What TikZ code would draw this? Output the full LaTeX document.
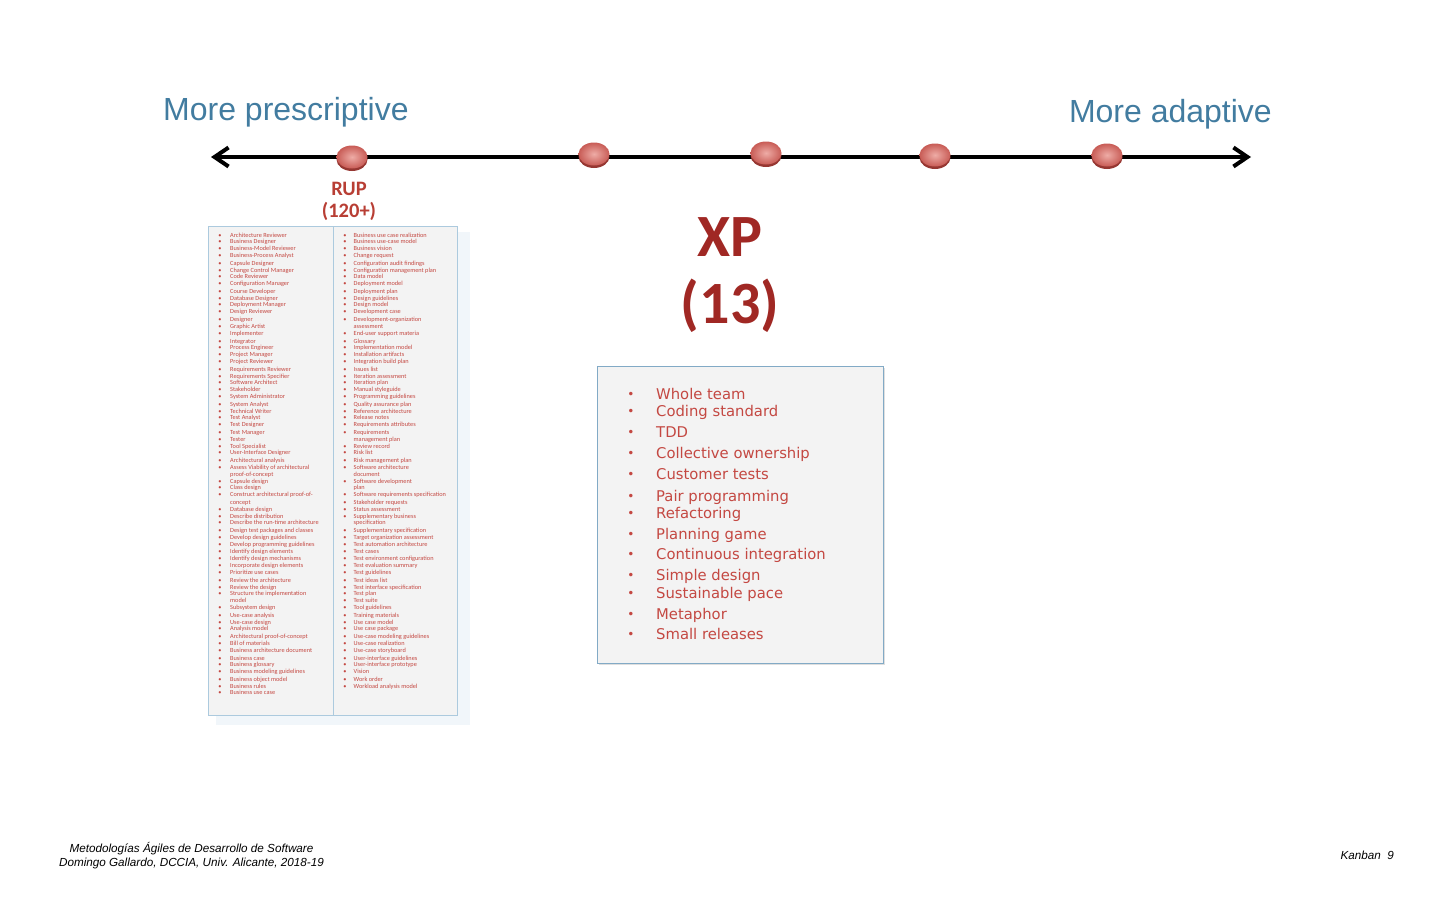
\documentclass[tikz,border=0pt]{standalone}
\usepackage{fontspec}
\setmainfont{Liberation Sans}
\newfontfamily\carlito{Carlito}
\newfontfamily\dejavu{DejaVu Sans}
\usetikzlibrary{arrows.meta,shapes.geometric,shadows}

\definecolor{headblue}{RGB}{66,124,160}
\definecolor{rupred}{RGB}{184,62,52}
\definecolor{xpred}{RGB}{160,40,36}
\definecolor{itemred}{RGB}{196,72,66}
\definecolor{boxfill}{RGB}{243,243,243}
\definecolor{boxline}{RGB}{130,170,198}
\definecolor{listline}{RGB}{172,202,222}
\definecolor{listshade}{RGB}{241,246,250}
\definecolor{dotdark}{RGB}{150,55,50}
\definecolor{dotmid}{RGB}{200,92,86}
\definecolor{dotlight}{RGB}{238,172,166}

\tikzset{
  head/.style={inner sep=0pt, text=headblue, font=\fontsize{32}{38}\selectfont},
  axisline/.style={line width=4pt, line cap=round,
    {Straight Barb[length=14pt,width=19pt]}-{Straight Barb[length=14pt,width=19pt]}},
  dot/.style={ellipse, minimum width=31pt, minimum height=23pt, inner sep=0pt,
    inner color=dotlight, outer color=dotmid,
    drop shadow={shadow xshift=0pt, shadow yshift=-2.5pt, fill=dotdark, opacity=1}},
  ruplabel/.style={anchor=base, inner sep=0pt, text=rupred,
    font=\carlito\bfseries\fontsize{20.5}{24}\selectfont},
  xplabel/.style={anchor=base, inner sep=0pt, text=xpred,
    font=\carlito\bfseries\fontsize{60}{70}\selectfont},
  listbox/.style={draw=listline, line width=0.9pt, fill=boxfill, inner sep=0pt},
  rupitem/.style={anchor=base west, inner sep=0pt, text=itemred,
    font=\carlito\fontsize{6.3}{7}\selectfont},
  rupbullet/.style={anchor=base, inner sep=0pt, text=itemred,
    font=\carlito\fontsize{6.3}{7}\selectfont},
  xpbox/.style={draw=boxline, line width=1.4pt, fill=boxfill, inner sep=0pt,
    drop shadow={shadow xshift=1.5pt, shadow yshift=-1.5pt, fill=black!25, opacity=0.5}},
  xpitem/.style={anchor=base west, inner sep=0pt, text=itemred,
    font=\dejavu\fontsize{14.8}{17}\selectfont},
  xpbullet/.style={anchor=base, inner sep=0pt, text=itemred,
    font=\dejavu\fontsize{12}{14}\selectfont},
  foot/.style={anchor=base, inner sep=0pt, font=\itshape\fontsize{11.7}{14}\selectfont},
}

\begin{document}
\begin{tikzpicture}[x=1pt,y=-1pt]
\useasboundingbox (0,0) rectangle (1440,900);

% headings
\node[head, anchor=base west] (hpres) at (163,120) {More prescriptive};
\node[head, anchor=base east] (hadap) at (1272,122) {More adaptive};

% scale axis
\coordinate (axL) at (211,157);
\coordinate (axR) at (1251,157);
\draw[axisline] (axL) -- (axR);

% methods on the scale
\node[dot] (d1) at (352,157) {};
\node[dot] (d2) at (594,154) {};
\node[dot] (d3) at (766,153) {};
\node[dot] (d4) at (935,155) {};
\node[dot] (d5) at (1107,155) {};

% RUP
\node[ruplabel] (rup) at (349,195) {RUP};
\node[ruplabel] (rupn) at (349,217) {(120+)};

% RUP element list
\fill[listshade] (216,232) rectangle (470,725);
\node[listbox, minimum width=249pt, minimum height=489pt] (rupbox) at (332.5,470.5) {};
\coordinate (divT) at (333,226);
\coordinate (divB) at (333,715);
\draw[listline, line width=0.9pt] (divT) -- (divB);

\foreach \yy/\txt/\bul [count=\i] in {
 235/Architecture Reviewer/1, 241/Business Designer/1, 248/Business-Model Reviewer/1,
 255/Business-Process Analyst/1, 263/Capsule Designer/1, 270/Change Control Manager/1,
 276/Code Reviewer/1, 283/Configuration Manager/1, 291/Course Developer/1,
 298/Database Designer/1, 304/Deployment Manager/1, 311/Design Reviewer/1,
 319/Designer/1, 326/Graphic Artist/1, 333/Implementer/1, 341/Integrator/1,
 347/Process Engineer/1, 354/Project Manager/1, 361/Project Reviewer/1,
 369/Requirements Reviewer/1, 376/Requirements Specifier/1, 382/Software Architect/1,
 389/Stakeholder/1, 396/System Administrator/1, 404/System Analyst/1,
 411/Technical Writer/1, 417/Test Analyst/1, 424/Test Designer/1, 432/Test Manager/1,
 439/Tester/1, 446/Tool Specialist/1, 452/User-Interface Designer/1,
 460/Architectural analysis/1, 467/Assess Viability of architectural/1,
 474/proof-of-concept/0, 481/Capsule design/1, 487/Class design/1,
 494/Construct architectural proof-of-/1, 502/concept/0, 509/Database design/1,
 516/Describe distribution/1, 522/Describe the run-time architecture/1,
 530/Design test packages and classes/1, 537/Develop design guidelines/1,
 544/Develop programming guidelines/1, 551/Identify design elements/1,
 558/Identify design mechanisms/1, 565/Incorporate design elements/1,
 572/Prioritize use cases/1, 580/Review the architecture/1, 587/Review the design/1,
 593/Structure the implementation/1, 600/model/0, 607/Subsystem design/1,
 615/Use-case analysis/1, 622/Use-case design/1, 628/Analysis model/1,
 636/Architectural proof-of-concept/1, 643/Bill of materials/1,
 650/Business architecture document/1, 658/Business case/1, 664/Business glossary/1,
 671/Business modeling guidelines/1, 679/Business object model/1, 686/Business rules/1,
 692/Business use case/1}
{
  \node[rupitem] (L\i) at (230,\yy+2) {\txt};
  \ifnum\bul=1 \node[rupbullet] (LB\i) at (220,\yy+2) {•};\fi
}

\foreach \yy/\txt/\bul [count=\i] in {
 235/Business use case realization/1, 241/Business use-case model/1,
 248/Business vision/1, 255/Change request/1, 263/Configuration audit findings/1,
 270/Configuration management plan/1, 276/Data model/1, 283/Deployment model/1,
 291/Deployment plan/1, 298/Design guidelines/1, 304/Design model/1,
 311/Development case/1, 319/Development-organization/1, 326/assessment/0,
 333/End-user support materia/1, 341/Glossary/1, 347/Implementation model/1,
 354/Installation artifacts/1, 361/Integration build plan/1, 369/Issues list/1,
 376/Iteration assessment/1, 382/Iteration plan/1, 389/Manual styleguide/1,
 396/Programming guidelines/1, 404/Quality assurance plan/1,
 411/Reference architecture/1, 417/Release notes/1, 424/Requirements attributes/1,
 432/Requirements/1, 439/management plan/0, 446/Review record/1, 452/Risk list/1,
 460/Risk management plan/1, 467/Software architecture/1, 474/document/0,
 481/Software development/1, 487/plan/0, 494/Software requirements specification/1,
 502/Stakeholder requests/1, 509/Status assessment/1, 516/Supplementary business/1,
 522/specification/0, 530/Supplementary specification/1,
 537/Target organization assessment/1, 544/Test automation architecture/1,
 551/Test cases/1, 558/Test environment configuration/1,
 565/Test evaluation summary/1, 572/Test guidelines/1, 580/Test ideas list/1,
 587/Test interface specification/1, 593/Test plan/1, 600/Test suite/1,
 607/Tool guidelines/1, 615/Training materials/1, 622/Use case model/1,
 628/Use case package/1, 636/Use-case modeling guidelines/1,
 643/Use-case realization/1, 650/Use-case storyboard/1,
 658/User-interface guidelines/1, 664/User-interface prototype/1, 671/Vision/1,
 679/Work order/1, 686/Workload analysis model/1}
{
  \node[rupitem] (R\i) at (353.5,\yy+2) {\txt};
  \ifnum\bul=1 \node[rupbullet] (RB\i) at (345,\yy+2) {•};\fi
}

% XP
\node[xplabel] (xp) at (730,256) {XP};
\node[xplabel] (xpn) at (730,323) {(13)};

\node[xpbox, minimum width=286pt, minimum height=297pt] (xpbox) at (740.3,515) {};
\foreach \yy/\txt [count=\i] in {
 399/Whole team, 416/Coding standard, 437/TDD, 458/Collective ownership,
 479/Customer tests, 501/Pair programming, 518/Refactoring, 539/Planning game,
 559/Continuous integration, 580/Simple design, 598/Sustainable pace,
 619/Metaphor, 639/Small releases}
{
  \node[xpbullet] (XB\i) at (631,\yy-1) {•};
  \node[xpitem] (X\i) at (656,\yy) {\txt};
}

% footer
\node[foot] (f1) at (191.5,852) {Metodologías Ágiles de Desarrollo de Software};
\node[foot] (f2) at (191.5,866) {Domingo Gallardo, DCCIA, Univ. Alicante, 2018-19};
\node[foot, anchor=base east] (pg) at (1394,859) {Kanban\hspace{0.55em}9};
\end{tikzpicture}
\end{document}
